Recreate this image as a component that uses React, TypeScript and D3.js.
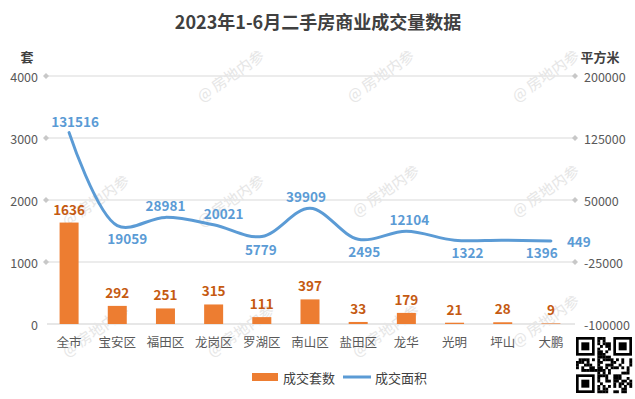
import React from "react";
import * as d3 from "d3";

const categories = ["全市", "宝安区", "福田区", "龙岗区", "罗湖区", "南山区", "盐田区", "龙华", "光明", "坪山", "大鹏"];
const units = [1636, 292, 251, 315, 111, 397, 33, 179, 21, 28, 9];
const areas = [131516, 19059, 28981, 20021, 5779, 39909, 2495, 12104, 1322, 1396, 449];
const leftTicks = [0, 1000, 2000, 3000, 4000];
const rightTicks = [-100000, -25000, 50000, 125000, 200000];
// label placement of area labels (style only)
const areaLabelSide = ["above", "below", "above", "above", "below", "above", "below", "above", "below", "below", "right"];
const areaLabelDx = [6, 10, 0, 10, -1, -4, 6, 3, 13, 39, 16];

const W = 635, H = 399;
const FONT = "'Noto Sans CJK SC', 'Microsoft YaHei', sans-serif";

function QR({ x, y, s }: { x: number; y: number; s: number }) {
  const n = 21;
  const c = s / n;
  const pattern = "101101001110100101101011010011101001011010110100111010010110101101001110100101101011010011101001011010";
  const cells: JSX.Element[] = [];
  const finder = (fx: number, fy: number) => (
    <g key={`f${fx}${fy}`}>
      <rect x={x + fx * c} y={y + fy * c} width={7 * c} height={7 * c} fill="#000" />
      <rect x={x + (fx + 1) * c} y={y + (fy + 1) * c} width={5 * c} height={5 * c} fill="#fff" />
      <rect x={x + (fx + 2) * c} y={y + (fy + 2) * c} width={3 * c} height={3 * c} fill="#000" />
    </g>
  );
  for (let i = 0; i < n; i++) {
    for (let j = 0; j < n; j++) {
      const inF = (i < 8 && j < 8) || (i < 8 && j >= n - 8) || (i >= n - 8 && j < 8);
      if (inF) continue;
      const b = pattern[(i * 7 + j * 13 + i * j) % pattern.length];
      if (b === "1") cells.push(<rect key={`${i}-${j}`} x={x + j * c} y={y + i * c} width={c + 0.2} height={c + 0.2} fill="#000" />);
    }
  }
  return (
    <g>
      <rect x={x - 2} y={y - 2} width={s + 4} height={s + 4} fill="#fff" />
      {cells}
      {finder(0, 0)}
      {finder(n - 7, 0)}
      {finder(0, n - 7)}
    </g>
  );
}

export default function App() {
  const x0 = 45, x1 = 575, yTop = 76, yBot = 324;
  const xBand = d3.scaleBand<string>().domain(categories).range([x0, x1]).paddingInner(0).paddingOuter(0);
  const cx = (c: string) => (xBand(c) as number) + xBand.bandwidth() / 2;
  const yL = d3.scaleLinear().domain([0, 4000]).range([yBot, yTop]);
  const yR = d3.scaleLinear().domain([-100000, 200000]).range([yBot, yTop]);
  const barW = 19;

  const pts: [number, number][] = categories.map((c, i) => [cx(c), yR(areas[i])]);
  const line = d3.line().curve(d3.curveCatmullRom.alpha(0.5))(pts) as string;

  const watermarks = [
    [95, 200], [230, 75], [230, 200], [240, 330], [380, 75], [385, 190], [385, 330], [545, 75], [545, 190], [545, 320], [95, 330],
  ];

  return (
    <svg width={W} height={H} style={{ position: "absolute", left: 0, top: 0, background: "#fff" }} fontFamily={FONT}>
      <rect width={W} height={H} fill="#fff" />
      <text x={318} y={29} textAnchor="middle" fontSize={18} fontWeight="bold" fill="#404040">2023年1-6月二手房商业成交量数据</text>
      <text x={27} y={62} textAnchor="middle" fontSize={13} fontWeight="bold" fill="#404040">套</text>
      <text x={600} y={62} textAnchor="middle" fontSize={13} fontWeight="bold" fill="#404040">平方米</text>

      {leftTicks.map((t) => (
        <g key={t}>
          {t !== 0 && <line x1={x0 + 2} x2={x1} y1={yL(t)} y2={yL(t)} stroke="#d9d9d9" strokeWidth={1.2} />}
          <text x={38} y={yL(t)} textAnchor="end" dominantBaseline="central" fontSize={12.5} fill="#595959">{t}</text>
          {t !== 0 && <path d={`M${x0 + 1},${yL(t) - 3}l3,3l-3,3l-3,-3z`} fill="#c8c8c8" />}
        </g>
      ))}
      {rightTicks.map((t) => (
        <g key={t}>
          <text x={584} y={yR(t)} textAnchor="start" dominantBaseline="central" fontSize={12.5} fill="#595959">{t}</text>
          {t !== -100000 && <path d={`M${x1},${yR(t) - 3}l3,3l-3,3l-3,-3z`} fill="#c8c8c8" />}
        </g>
      ))}
      <line x1={x0 + 2} x2={x1} y1={yBot} y2={yBot} stroke="#d0d0d0" strokeWidth={1.2} />

      {watermarks.map(([wx, wy], i) => (
        <text key={i} x={wx} y={wy} textAnchor="middle" dominantBaseline="central" fontSize={15} fill="#e6e6e6" transform={`rotate(-35 ${wx} ${wy})`}>@ 房地内参</text>
      ))}

      {categories.map((c, i) => (
        <g key={c}>
          <rect x={cx(c) - barW / 2} y={yL(units[i])} width={barW} height={yBot - yL(units[i])} fill="#ED7D31" />
          <text x={cx(c)} y={yL(units[i]) - 14} textAnchor="middle" dominantBaseline="central" fontSize={13.5} fontWeight="bold" fill="#C55A11">{units[i]}</text>
          <text x={cx(c)} y={341} textAnchor="middle" dominantBaseline="central" fontSize={12.5} fill="#595959">{c}</text>
        </g>
      ))}

      <path d={line} fill="none" stroke="#5B9BD5" strokeWidth={3} strokeLinecap="round" />
      {categories.map((c, i) => {
        const side = areaLabelSide[i];
        const px = cx(c), py = yR(areas[i]);
        const tx = side === "right" ? px + areaLabelDx[i] : px + areaLabelDx[i];
        const ty = side === "above" ? py - 12 : side === "below" ? py + 12 : py;
        return (
          <text key={c} x={tx} y={ty} textAnchor={side === "right" ? "start" : "middle"} dominantBaseline="central" fontSize={13.5} fontWeight="bold" fill="#5B9BD5">{areas[i]}</text>
        );
      })}

      <rect x={252} y={373} width={26} height={8} fill="#ED7D31" />
      <text x={283} y={377} dominantBaseline="central" fontSize={13} fill="#404040">成交套数</text>
      <line x1={343} x2={371} y1={377} y2={377} stroke="#5B9BD5" strokeWidth={3} />
      <text x={375} y={377} dominantBaseline="central" fontSize={13} fill="#404040">成交面积</text>

      <QR x={576} y={337} s={56} />
    </svg>
  );
}
